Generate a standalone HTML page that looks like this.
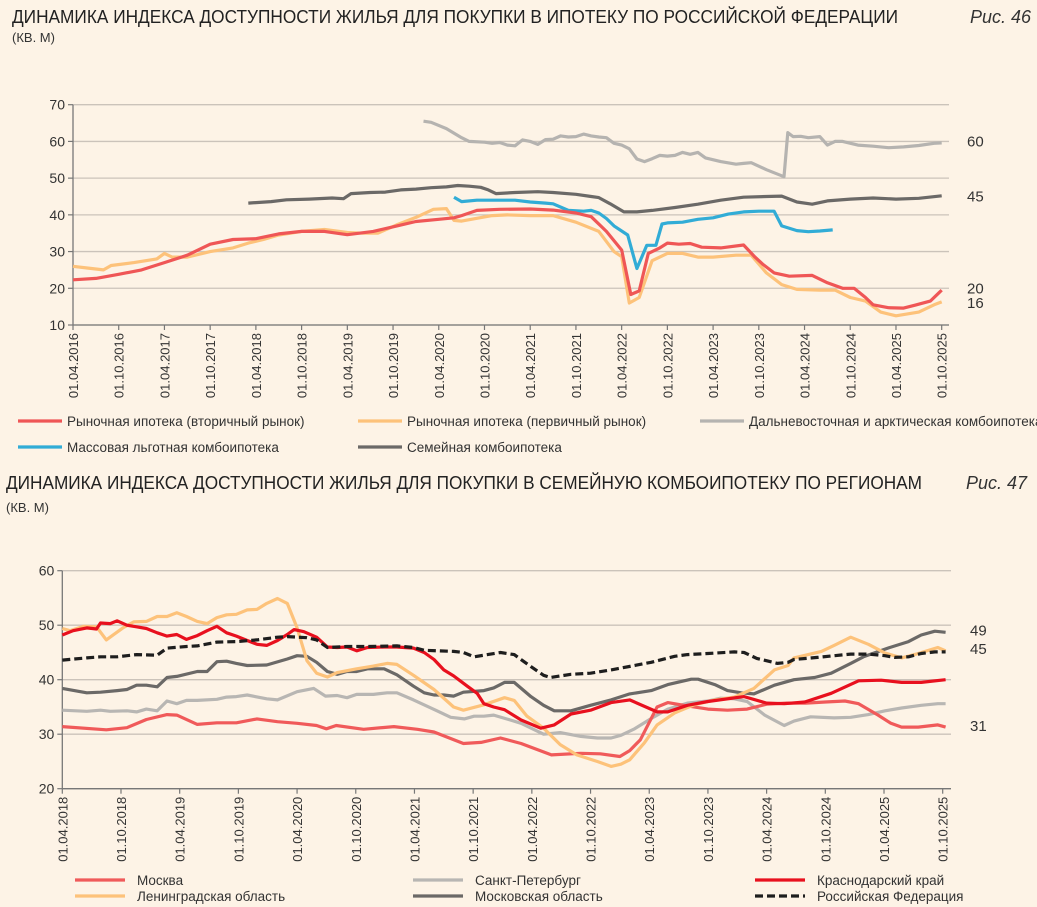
<!DOCTYPE html>
<html><head><meta charset="utf-8">
<style>
html,body{margin:0;padding:0;background:#fdf3e6;}
svg{display:block;font-family:"Liberation Sans Narrow","Liberation Sans",sans-serif;}
</style></head>
<body>
<svg id="svg" width="1037" height="907" viewBox="0 0 1037 907" xmlns="http://www.w3.org/2000/svg">
<rect width="1037" height="907" fill="#fdf3e6"/>
<text x="12" y="23" font-size="18.5" fill="#222" textLength="886" lengthAdjust="spacingAndGlyphs">ДИНАМИКА ИНДЕКСА ДОСТУПНОСТИ ЖИЛЬЯ ДЛЯ ПОКУПКИ В ИПОТЕКУ ПО РОССИЙСКОЙ ФЕДЕРАЦИИ</text>
<text x="1031" y="23" font-size="18" font-style="italic" fill="#333" text-anchor="end">Рис. 46</text>
<text x="12" y="42" font-size="13" fill="#333">(КВ. М)</text>
<text x="6" y="489" font-size="18.5" fill="#222" textLength="916" lengthAdjust="spacingAndGlyphs">ДИНАМИКА ИНДЕКСА ДОСТУПНОСТИ ЖИЛЬЯ ДЛЯ ПОКУПКИ В СЕМЕЙНУЮ КОМБОИПОТЕКУ ПО РЕГИОНАМ</text>
<text x="1027" y="489" font-size="18" font-style="italic" fill="#333" text-anchor="end">Рис. 47</text>
<text x="6" y="512" font-size="13" fill="#333">(КВ. М)</text>
<g id="c1"></g>
<g id="c2"></g>
<g id="leg"></g>
</svg>
<script>
// ---------- Chart 1 data (month index, 0 = 01.04.2016) ----------
const c1Ticks = ["01.04.2016","01.10.2016","01.04.2017","01.10.2017","01.04.2018","01.10.2018","01.04.2019","01.10.2019","01.04.2020","01.10.2020","01.04.2021","01.10.2021","01.04.2022","01.10.2022","01.04.2023","01.10.2023","01.04.2024","01.10.2024","01.04.2025","01.10.2025"];
const c1YTicks = [10,20,30,40,50,60,70];
const secMonths = [0,3,6,9,12,15,18,21,24,27,30,33,36,39.4,42.5,45,48,50,51,53,56,60,63,66,68,70,72,73.2,74.3,75.5,77,78,79.5,81,82.5,85,88,89.5,90.5,92,94,97,99,101,102.5,104,105,107,109,110.5,112.5,113.5,114];
const secValues = [22.3,22.7,23.8,25,27,29,32,33.3,33.5,34.8,35.5,35.5,34.6,35.5,37,38.2,38.8,39.2,39.8,41.2,41.5,41.6,41.3,40.5,39.5,35.5,30.4,18.3,19.3,29.5,31,32.3,32,32.2,31.2,31,31.8,28.5,26.6,24.2,23.3,23.5,21.5,20,20,17.5,15.5,14.7,14.6,15.4,16.5,18.5,19.5];
const priMonths = [0,2,4,5,8,11,12,13,15,18,21,23,25,27,30,33,36,38,40,42.5,45,47.3,49,50,51,55,57,60,63,66,69,71,72,73,74.3,76,78,80,82,84,87,89,91,93,95,98,100,102,104,106,108,111,113,114];
const priValues = [26,25.5,25,26.2,27,28,29.5,28.5,28.5,30,31,32.3,33.3,34.5,35.5,36,35.2,35,35,37.3,39.3,41.5,41.7,38.5,38.3,39.8,40,39.8,39.8,38,35.5,30,28.6,16,17.5,27.5,29.5,29.5,28.5,28.5,29,29,24.2,21,19.7,19.5,19.5,17.5,16.5,13.5,12.5,13.5,15.5,16.3];
const farMonths = [46,47,49,51,52,54,55,56,57,58,59,60,61,62,63,64,65,66,67,68,69,70,71,72,73,74,75,76,77,78,79,80,81,82,83,85,87,88,89,91,93.3,93.8,94.5,95.5,96.5,98,99,100,101,103,105,107,109,111,113,114];
const farValues = [65.5,65.2,63.5,61,60,59.8,59.5,59.7,59,58.8,60.4,60,59.2,60.5,60.6,61.5,61.2,61.3,62,61.5,61.2,61,59.5,59,58,55.2,54.5,55.3,56.2,56,56.2,57,56.5,57,55.5,54.5,53.8,54,54.2,52.3,50.4,62.4,61.3,61.4,61,61.3,59,60,60,59,58.7,58.3,58.5,58.9,59.5,59.6];
const massMonths = [50,51,53,56,58,60,62,63,65,67,68,69,70,71,72.8,74,75.3,76.5,77.3,78,80,82,84,86,88,90,92,93,95,96.5,98,99.7];
const massValues = [44.8,43.6,44,44,44,43.5,43.2,43,41.2,41,41.2,40.5,39,37,34.5,25.4,31.7,31.7,37.5,37.8,38,38.8,39.2,40.2,40.8,41,41,37,35.7,35.4,35.6,35.9];
const famMonths = [23,26,28,31,34,35.5,36.5,39,41,43,45,47,49,50.5,52,53.5,54.5,55.5,58,61,63,66,68,69,70.5,72.3,74,76,79,82,85,88,91,93,95,97,99,102,105,108,111,114];
const famValues = [43.2,43.6,44.1,44.3,44.6,44.4,45.8,46.1,46.2,46.8,47,47.4,47.6,48,47.8,47.5,46.8,45.8,46.1,46.3,46.1,45.6,45,44.7,43,40.8,40.8,41.2,42,42.9,44,44.8,45,45.1,43.5,42.9,43.8,44.3,44.6,44.3,44.5,45.2];
const c1EndLabels = ["60","45","20","16"];
const c1EndValues = [60,45,20,16];

// ---------- Chart 2 data (month index, 0 = 01.04.2018) ----------
const c2Ticks = ["01.04.2018","01.10.2018","01.04.2019","01.10.2019","01.04.2020","01.10.2020","01.04.2021","01.10.2021","01.04.2022","01.10.2022","01.04.2023","01.10.2023","01.04.2024","01.10.2024","01.04.2025","01.10.2025"];
const c2YTicks = [20,30,40,50,60];
const mskMonths = [0,4.5,6.6,8.6,10.7,11.7,13.8,15.8,17.8,19.9,22,24,26,27,28,30.8,33.9,36.3,38,41,42.8,44.8,46.9,50,53,55,57,58,59.1,60.8,61.9,63.9,66,68,70,72,74,76,78,80,81.4,83.4,84.7,85.8,87.5,89.5,90.3];
const mskValues = [31.4,30.8,31.2,32.7,33.6,33.5,31.8,32.1,32.1,32.8,32.3,32,31.6,31,31.6,30.9,31.4,30.9,30.4,28.3,28.5,29.3,28.3,26.2,26.5,26.4,25.9,27,29,35,35.8,35.2,34.6,34.4,34.6,35.5,35.7,35.7,35.9,36.1,35.6,33.5,32,31.3,31.3,31.7,31.3];
const spbMonths = [0,2.5,3.9,4.9,6.6,7.6,8.6,9.7,10.7,11.7,12.7,13.8,15.8,16.8,17.8,18.9,20.9,22,24,25.7,26.9,28.1,29.1,30.1,31.8,33.2,34.2,35.9,38.3,39.7,41.1,42.1,43.1,44.1,45.8,46.9,49.2,50.9,53,54.7,56.1,57.1,58.5,60.5,61.9,63.9,66,67.3,68.7,70,71.8,73.8,74.8,76.5,78.9,80.6,82.4,84.1,85.8,87.8,89.5,90.3];
const spbValues = [34.4,34.2,34.4,34.2,34.3,34.1,34.6,34.3,36.1,35.6,36.2,36.2,36.4,36.8,36.9,37.2,36.5,36.3,37.8,38.4,37,37.1,36.7,37.3,37.3,37.6,37.6,36.3,34.3,33.1,32.8,33.3,33.3,33.5,32.6,32,30,30.3,29.6,29.3,29.3,29.8,31,33.2,34.6,35.7,36.1,36.6,36.5,36,33.5,31.6,32.4,33.2,33,33.1,33.6,34.3,34.8,35.3,35.6,35.6];
const krdMonths = [0,1.1,2.5,3.5,3.9,4.9,5.6,6.6,7.6,8.6,9.7,10.7,11.7,12.7,13.8,14.8,15.8,16.8,17.8,18.9,19.9,20.9,22,23,23.7,24.7,26,27.1,28.1,29.1,30.1,31.2,32.9,34.2,35.9,37,38,39,40,41.4,42.4,43.1,44.1,45.2,46.9,48.9,50.3,52,54,56.1,58,60.8,61.9,63.9,66,69.7,72,73.8,75.9,78.6,81.4,83.7,85.8,87.8,90.3];
const krdValues = [48.2,49,49.5,49.3,50.4,50.3,50.8,50,49.7,49.4,48.6,48,48.3,47.4,48.1,49,49.8,48.6,48,47.2,46.5,46.3,47.2,48.3,49.2,48.8,47.8,46,45.9,46,45.3,45.9,46,46,45.8,45,43.7,41.8,40.7,38.8,37.5,35.6,35,34.5,32.6,31.1,31.7,33.7,34.4,35.8,36.3,34.1,34.1,35.3,36,36.9,35.7,35.6,35.9,37.5,39.8,39.9,39.5,39.5,40];
const lenMonths = [0,0.8,2.2,3.5,4.5,6.2,7.3,8.6,9.7,10.7,11.7,12.7,13.8,14.8,15.8,16.8,17.8,18.9,19.9,20.9,22,23,24,25,26,27.1,28.1,30.1,31.8,33.2,34.2,35.9,38,40,41,43.1,45.2,46.2,47.5,49.2,50.9,52.6,54.7,56.1,57.1,58,59.5,60.8,62.6,64.6,66.7,68.7,70.7,72.8,74.2,74.8,77.6,78.9,80.6,82.4,84.1,85.8,87.5,89.5,90.3];
const lenValues = [49.4,49,49.8,49.7,47.3,49.5,50.6,50.7,51.6,51.6,52.3,51.6,50.7,50.3,51.4,51.9,52,52.8,52.9,54,54.9,54,49.5,43.5,41.2,40.5,41.3,42,42.5,43,42.8,40.8,38.2,35,34.4,35.4,36.7,36.2,33.3,31.1,28.1,26.2,25,24.1,24.5,25.3,28.4,31.7,33.9,35.4,36.3,36.8,38.4,41.8,42.6,44,45.2,46.3,47.8,46.5,44.9,44,44.8,45.9,45.3];
const mosMonths = [0,2.5,3.9,5.6,6.6,7.6,8.6,9.7,10.7,11.7,13.8,14.8,15.8,16.8,17.8,18.9,20.9,23,24,25,26,27.1,28.1,29.1,30.1,31.2,32.9,34.2,35.9,37,38,39,40,41,43.1,44.1,45.2,46.2,47.9,49.2,50.3,52,54,56.1,58,60.2,61.9,64.3,65,66.7,68,69.4,70.7,72.8,74.8,76.9,78.6,80.6,81.9,84.4,86.5,87.8,89.2,90.3];
const mosValues = [38.4,37.6,37.7,38,38.2,39,39,38.7,40.4,40.6,41.5,41.5,43.3,43.4,43,42.6,42.7,43.8,44.4,44.3,43.2,41.5,41,41.5,41.5,42,42,40.9,38.8,37.6,37.2,37.2,37,37.7,38,38.5,39.5,39.5,36.9,35.3,34.3,34.3,35.3,36.3,37.4,38,39.1,40.1,40.1,39.1,38,37.6,37.4,39,40,40.4,41.2,43,44.2,45.8,47,48.2,48.9,48.7];
const rfMonths = [0,2.5,3.9,5.6,6.6,7.6,9.7,10.7,12.7,13.8,15.8,17.8,19.9,22,23,25,26,27.1,29.1,31.2,34.2,35.9,37,40,41,42.1,43.1,44.8,46.2,47.9,49.2,49.9,52,54,56.1,58.5,60.2,62.6,63.9,66,68.7,69.7,71,73.1,74.2,74.8,77.2,78.9,80.6,82.4,84.1,85.1,86.5,87.8,89.2,90.3];
const rfValues = [43.6,44,44.2,44.2,44.4,44.6,44.5,45.8,46.1,46.2,46.9,47,47.3,47.8,47.9,47.7,47.3,45.9,46.1,46.1,46.2,45.9,45.4,45.2,45,44.2,44.5,45,44.6,42.4,40.8,40.4,41,41.2,41.8,42.6,43.2,44.3,44.6,44.8,45.1,45,43.9,43,43.2,43.7,44.1,44.4,44.7,44.7,44.4,44.1,44.2,44.8,45.1,45.1];
const c2EndLabels = ["49","45","31"];
const c2EndValues = [49,45.6,31.5];

const NS = "http://www.w3.org/2000/svg";
function mk(tag, attrs, parent){const e=document.createElementNS(NS,tag);for(const k in attrs)e.setAttribute(k,attrs[k]);parent.appendChild(e);return e;}

function drawChart(g, cfg){
  const x = m => cfg.x0 + (m - 0) / cfg.mMax * (cfg.x1 - cfg.x0);
  const y = v => cfg.yTop + (cfg.yMax - v) / (cfg.yMax - cfg.yMin) * (cfg.yBot - cfg.yTop);
  cfg.yTicks.forEach(v=>{
    const gl = mk("line",{x1:cfg.x0,x2:cfg.xr,y1:y(v),y2:y(v),stroke:"#cbc3ba","stroke-width":1.3},g);
    
    
    const tk = mk("line",{x1:cfg.x0-5,x2:cfg.x0,y1:y(v),y2:y(v),stroke:"#777","stroke-width":1.2},g);
    
    
    const t = mk("text",{x:cfg.x0-8,y:y(v)+5,"font-size":14,fill:"#333","text-anchor":"end"},g);
    t.textContent = v;
    
    
  });
  const ya = mk("line",{x1:cfg.x0,x2:cfg.x0,y1:cfg.yTop,y2:cfg.yBot,stroke:"#777","stroke-width":1.3},g);
  
  
  const xa = mk("line",{x1:cfg.x0,x2:cfg.xr,y1:cfg.yBot,y2:cfg.yBot,stroke:"#777","stroke-width":1.3},g);
  
  
  cfg.ticks.forEach((lab,i)=>{
    const xx = x(i*6);
    const tk = mk("line",{x1:xx,x2:xx,y1:cfg.yBot,y2:cfg.yBot+5,stroke:"#777","stroke-width":1.2},g);
    
    
    const t = mk("text",{x:0,y:0,"font-size":13,fill:"#333","text-anchor":"end",transform:`translate(${xx+5},${cfg.yBot+8}) rotate(-90)`},g);
    t.textContent = lab;
    
    
  });
  cfg.series.forEach(s=>{
    const d = s.m.map((m,i)=>(i?"L":"M")+x(m).toFixed(1)+","+y(s.v[i]).toFixed(1)).join(" ");
    const p = mk("path",{d:d,fill:"none",stroke:s.c,"stroke-width":s.w||3.2,"stroke-linejoin":"round","stroke-linecap":"butt"},g);
    if(s.dash) p.setAttribute("stroke-dasharray",s.dash);
    
    
  });
  cfg.endLabels.forEach((lab,i)=>{
    const t = mk("text",{x:cfg.lx,y:y(cfg.endValues[i])+5,"font-size":15,fill:"#333"},g);
    t.textContent = lab;
    
    
  });
}

drawChart(document.getElementById("c1"),{
  x0:73,x1:941.7,xr:949,mMax:114,yTop:104.7,yBot:325,yMin:10,yMax:70,yTicks:c1YTicks,ticks:c1Ticks,lx:967,
  endLabels:c1EndLabels,endValues:c1EndValues,
  series:[
    {name:"far-east-arctic-line",m:farMonths,v:farValues,c:"#b5b3b0"},
    {name:"family-combo-line",m:famMonths,v:famValues,c:"#6b6967"},
    {name:"mass-combo-line",m:massMonths,v:massValues,c:"#31acd6"},
    {name:"primary-market-line",m:priMonths,v:priValues,c:"#fdc27a"},
    {name:"secondary-market-line",m:secMonths,v:secValues,c:"#ef5656"}
  ]});
drawChart(document.getElementById("c2"),{
  x0:62.3,x1:942.7,xr:951,mMax:90,yTop:570.7,yBot:788.7,yMin:20,yMax:60,yTicks:c2YTicks,ticks:c2Ticks,lx:970,
  endLabels:c2EndLabels,endValues:c2EndValues,
  series:[
    {name:"spb-line",m:spbMonths,v:spbValues,c:"#b8b6b3"},
    {name:"moscow-line",m:mskMonths,v:mskValues,c:"#f05a5a"},
    {name:"moscow-oblast-line",m:mosMonths,v:mosValues,c:"#6b6967"},
    {name:"leningrad-oblast-line",m:lenMonths,v:lenValues,c:"#fdc27a"},
    {name:"krasnodar-line",m:krdMonths,v:krdValues,c:"#e8101e"},
    {name:"russia-line",m:rfMonths,v:rfValues,c:"#1e1e1e",dash:"8,4"}
  ]});

// ---------- legends ----------
const legNames = ["Рыночная ипотека (вторичный рынок)","Рыночная ипотека (первичный рынок)","Дальневосточная и арктическая комбоипотека","Массовая льготная комбоипотека","Семейная комбоипотека","Москва","Санкт-Петербург","Краснодарский край","Ленинградская область","Московская область","Российская Федерация"];
const legColors = ["#ef5656","#fdc27a","#b5b3b0","#31acd6","#6b6967","#f05a5a","#b8b6b3","#e8101e","#fdc27a","#6b6967","#1e1e1e"];
const legPos = [[18,421],[358,421],[700,421],[18,447],[358,447],[75,880],[413,880],[755,880],[75,896],[413,896],[755,896]];
const lg = document.getElementById("leg");
legNames.forEach((n,i)=>{
  const [lx,ly] = legPos[i];
  const g = mk("g",{},lg);
  
  
  const len = i<5?44:50;
  const ln = mk("line",{x1:lx,x2:lx+len,y1:ly,y2:ly,stroke:legColors[i],"stroke-width":3.2},g);
  if(i===10) ln.setAttribute("stroke-dasharray","8,4");
  
  
  const t = mk("text",{x:lx+len+(i<5?5:12),y:ly+5,"font-size":13.5,fill:"#333","font-family":"Liberation Sans, sans-serif"},g);
  t.textContent = n;
  
  
});
</script>
</body></html>
